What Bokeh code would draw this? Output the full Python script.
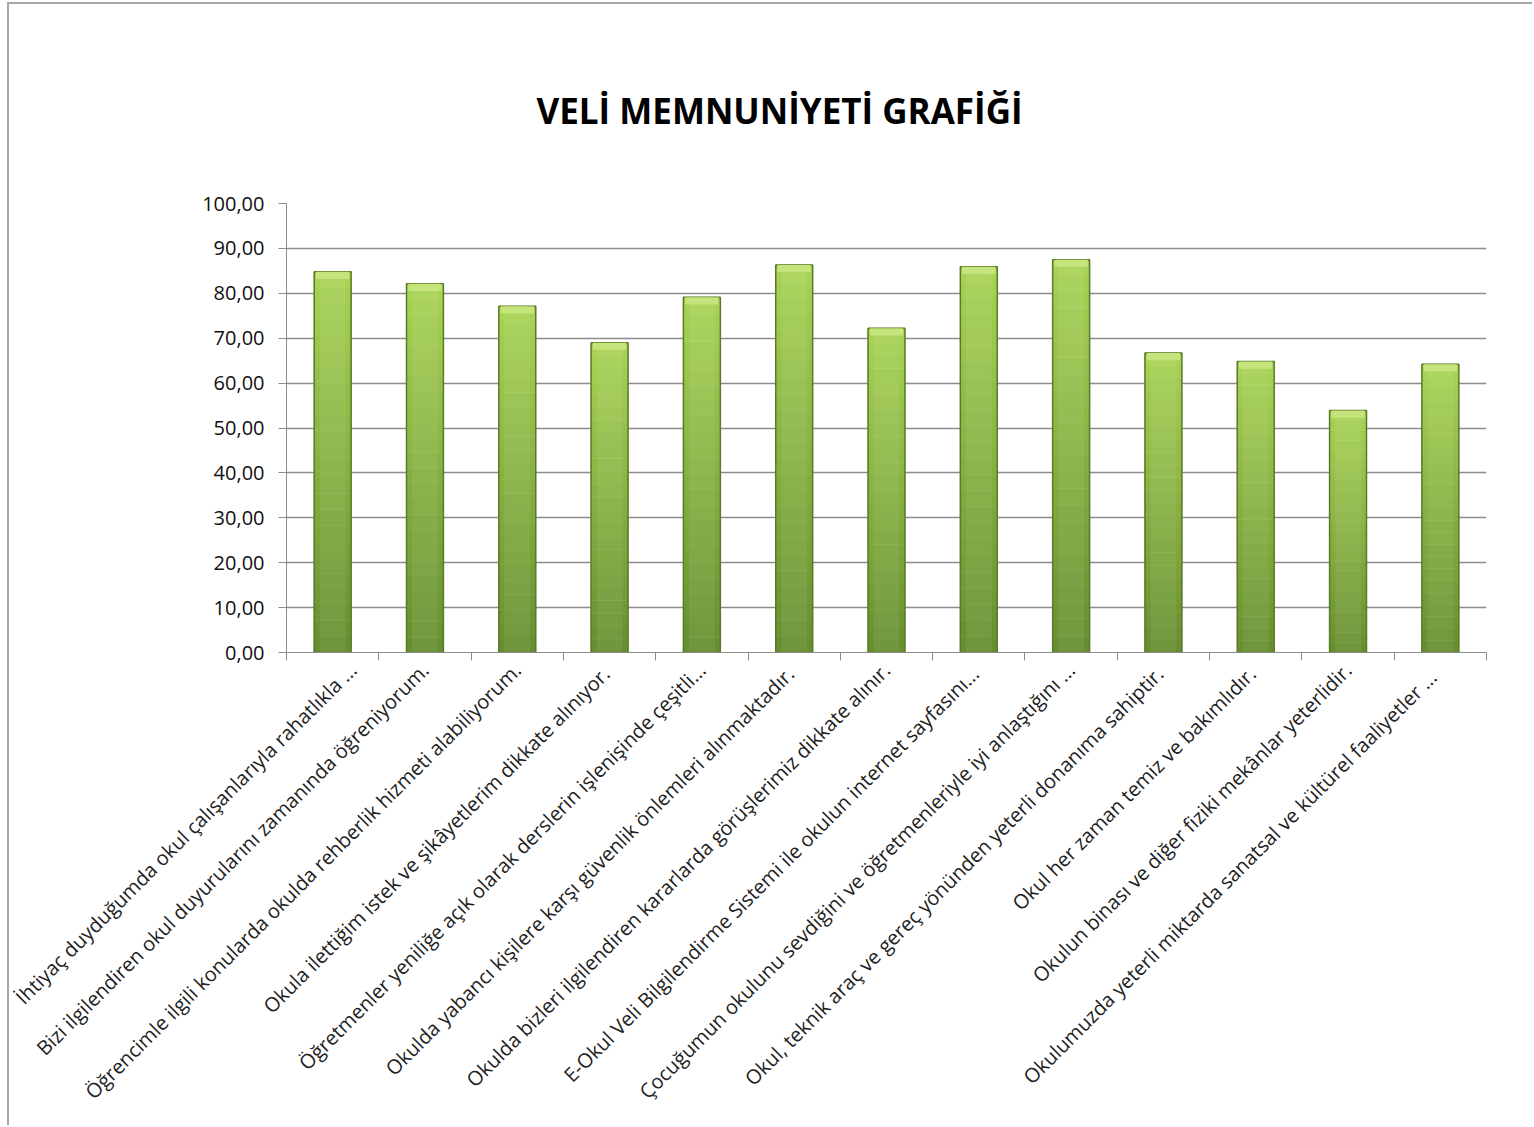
import math
from bokeh.plotting import figure
from bokeh.models import Range1d, FixedTicker
from bokeh.embed import file_html
from bokeh.resources import INLINE

title_text = "VELİ MEMNUNİYETİ GRAFİĞİ"

categories = [
    "İhtiyaç duyduğumda okul çalışanlarıyla rahatlıkla ...",
    "Bizi ilgilendiren okul duyurularını zamanında öğreniyorum.",
    "Öğrencimle ilgili konularda okulda rehberlik hizmeti alabiliyorum.",
    "Okula ilettiğim  istek ve şikâyetlerim dikkate alınıyor.",
    "Öğretmenler yeniliğe açık olarak derslerin işlenişinde çeşitli...",
    "Okulda yabancı  kişilere karşı güvenlik önlemleri alınmaktadır.",
    "Okulda bizleri ilgilendiren kararlarda görüşlerimiz dikkate alınır.",
    "E-Okul Veli Bilgilendirme Sistemi  ile okulun internet sayfasını...",
    "Çocuğumun okulunu sevdiğini ve öğretmenleriyle iyi anlaştığını ...",
    "Okul, teknik araç ve gereç yönünden yeterli donanıma  sahiptir.",
    "Okul her zaman  temiz ve bakımlıdır.",
    "Okulun binası ve diğer fiziki mekânlar yeterlidir.",
    "Okulumuzda yeterli miktarda  sanatsal  ve kültürel faaliyetler ...",
]

values = [84.8, 82.1, 77.1, 69.0, 79.1, 86.3, 72.2, 85.9, 87.5, 66.7, 64.8, 53.9, 64.2]

y_ticks = [0, 10, 20, 30, 40, 50, 60, 70, 80, 90, 100]
y_tick_labels = ["0,00", "10,00", "20,00", "30,00", "40,00", "50,00",
                 "60,00", "70,00", "80,00", "90,00", "100,00"]

FONT = "Open Sans"

p = figure(width=1525, height=1123, output_backend="svg", toolbar_location=None,
           x_range=Range1d(0.5, len(categories) + 0.5), y_range=Range1d(0, 100),
           min_border_left=277, min_border_right=48, min_border_top=199,
           min_border_bottom=475)
p.styles = {"margin-left": "7px", "margin-top": "2px",
            "border-left": "2px solid #a6a6a6", "border-top": "2px solid #a6a6a6"}

p.title.text = title_text
p.title.text_font = FONT
p.title.text_font_size = "35px"
p.title.text_font_style = "bold"
p.title.text_color = "#000000"
p.title.align = "left"
p.title.offset = 250
p.title.standoff = 139

xs = list(range(1, len(categories) + 1))

# vertical gradient built from slices of each bar
N = 24
top_c = (0xA8, 0xD3, 0x55)
bot_c = (0x66, 0x8E, 0x2F)
sl_x, sl_b, sl_t, sl_c = [], [], [], []
for x, v in zip(xs, values):
    for k in range(N):
        f = (k + 0.5) / N
        c = tuple(int(round(bot_c[i] + (top_c[i] - bot_c[i]) * f)) for i in range(3))
        sl_x.append(x)
        sl_b.append(v * k / N)
        sl_t.append(v * (k + 1) / N)
        sl_c.append("#%02x%02x%02x" % c)
p.vbar(x=sl_x, bottom=sl_b, top=sl_t, width=0.4, fill_color=sl_c, line_color=sl_c,
       line_width=0.6)

# soft central highlight
p.vbar(x=xs, bottom=0, top=values, width=0.28, fill_color="#ffffff", fill_alpha=0.07,
       line_color=None)
# outline
p.vbar(x=xs, bottom=0, top=values, width=0.4, fill_alpha=0.0,
       line_color="#5a7a27", line_width=1.5)
# light top cap
cap_b = [v - 1.6 for v in values]
p.vbar(x=xs, bottom=cap_b, top=values, width=0.36, fill_color="#c6e47c",
       line_color=None)

p.xgrid.grid_line_color = None
p.ygrid.grid_line_color = "#8c8c8c"
p.ygrid.grid_line_width = 1.3
p.outline_line_color = None

p.yaxis.ticker = FixedTicker(ticks=y_ticks)
p.yaxis.major_label_overrides = {t: l for t, l in zip(y_ticks, y_tick_labels)}
p.yaxis.major_label_text_font = FONT
p.yaxis.major_label_text_font_size = "20px"
p.yaxis.major_label_text_color = "#111111"
p.yaxis.axis_line_color = "#8c8c8c"
p.yaxis.major_tick_line_color = "#8c8c8c"
p.yaxis.major_tick_out = 8
p.yaxis.major_tick_in = 0
p.yaxis.minor_tick_line_color = None
p.yaxis.major_label_standoff = 14

p.xaxis.ticker = FixedTicker(ticks=xs, minor_ticks=[x + 0.5 for x in range(0, len(categories) + 1)])
p.xaxis.major_label_overrides = {x: c for x, c in zip(xs, categories)}
p.xaxis.major_label_orientation = math.pi / 4
p.xaxis.major_label_text_font = FONT
p.xaxis.major_label_text_font_size = "20px"
p.xaxis.major_label_text_color = "#222222"
p.xaxis.axis_line_color = "#8c8c8c"
p.xaxis.major_tick_line_color = None
p.xaxis.major_tick_out = 8
p.xaxis.minor_tick_line_color = "#8c8c8c"
p.xaxis.minor_tick_out = 8
p.xaxis.minor_tick_in = 0
p.xaxis.major_label_standoff = 6

open("out.html", "w").write(file_html(p, INLINE))
